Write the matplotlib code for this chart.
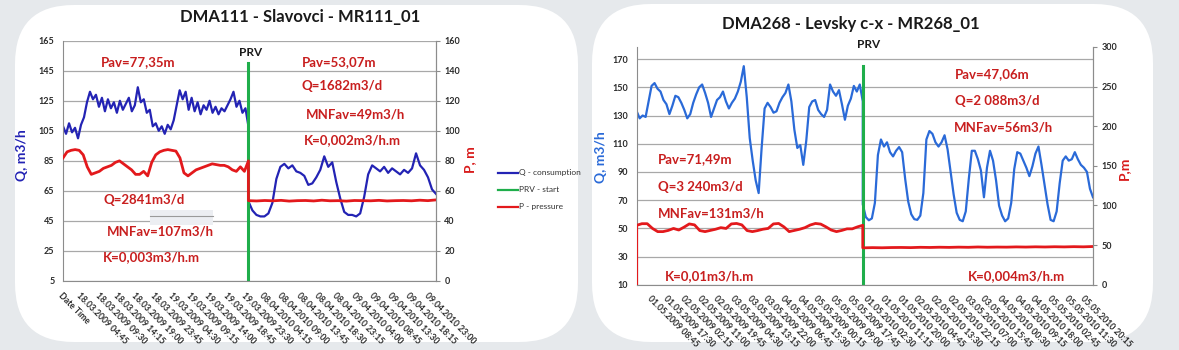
import numpy as np
import matplotlib
matplotlib.use("Agg")
import matplotlib.pyplot as plt
from matplotlib.patches import FancyBboxPatch, Rectangle
from matplotlib.lines import Line2D

plt.rcParams['font.family'] = ['Lato', 'DejaVu Sans']

W, H = 1179, 350

# ---------------- data: DMA111 (left) ----------------
labels_111 = ["Date Time",
              "18.03.2009 04:45", "18.03.2009 09:30", "18.03.2009 14:15", "18.03.2009 19:00",
              "18.03.2009 23:45", "19.03.2009 04:30", "19.03.2009 09:15", "19.03.2009 14:00",
              "19.03.2009 18:45", "19.03.2009 23:30", "08.04.2010 04:15", "08.04.2010 09:00",
              "08.04.2010 13:45", "08.04.2010 18:30", "08.04.2010 23:15", "09.04.2010 04:00",
              "09.04.2010 08:45", "09.04.2010 13:30", "09.04.2010 18:15", "09.04.2010 23:00"]
prv_111 = 10.14
q_before_111 = [108, 103, 110, 104, 107, 100, 109, 114, 124, 131, 126, 129, 121, 127, 118, 126,
                120, 124, 117, 125, 119, 123, 127, 118, 122, 134, 124, 126, 117, 119, 108, 110,
                105, 108, 103, 109, 106, 112, 122, 132, 126, 131, 119, 127, 118, 124, 116, 122,
                119, 125, 117, 121, 116, 120, 118, 122, 126, 131, 121, 125, 117, 120, 108]
q_after_111 = [58, 52, 49, 48, 48, 50, 57, 73, 81, 83, 80, 82, 78, 77, 75, 69, 70, 74, 79, 88,
               81, 84, 71, 60, 51, 49, 49, 48, 50, 61, 76, 82, 80, 78, 81, 77, 80, 78, 76, 79,
               77, 80, 90, 82, 79, 74, 66, 63]
p_before_111 = [82, 86, 87, 87.5, 87, 84, 76, 71, 72, 73, 75, 76, 77, 79, 80, 78, 76, 74, 71,
                71, 73, 70, 79, 84, 86, 87, 87.5, 87, 86.5, 82, 72, 70, 72, 74, 75, 76, 77, 78,
                77.5, 77, 77, 76, 74, 73, 76, 73, 80]
p_after_111 = [53.5, 53.3, 53.6, 53.4, 53.7, 53.2, 53.5, 53.6, 53.3, 53.8, 53.4, 53.5, 53.2,
               53.6, 53.5, 53.4, 53.7, 53.3, 53.5, 53.6, 53.4, 53.8, 53.5, 54.0]

# ---------------- data: DMA268 (right) ----------------
labels_268 = ["Date Time",
              "01.05.2009 08:45", "01.05.2009 17:30", "02.05.2009 02:15", "02.05.2009 11:00",
              "02.05.2009 19:45", "03.05.2009 04:30", "03.05.2009 13:15", "03.05.2009 22:00",
              "04.05.2009 06:45", "04.05.2009 15:30", "05.05.2009 00:15", "05.05.2009 09:00",
              "05.05.2009 17:45", "01.05.2010 02:30", "01.05.2010 11:15", "01.05.2010 20:00",
              "02.05.2010 04:45", "02.05.2010 13:30", "02.05.2010 22:15", "03.05.2010 07:00",
              "03.05.2010 15:45", "04.05.2010 00:30", "04.05.2010 09:15", "04.05.2010 18:00",
              "05.05.2010 02:45", "05.05.2010 11:30", "05.05.2010 20:15"]
prv_268 = 13.66
q_before_268 = [0, 133, 128, 130, 129, 140, 151, 153, 149, 147, 141, 138, 131, 137, 144, 143, 139,
                134, 128, 131, 139, 145, 150, 152, 146, 139, 129, 135, 141, 143, 147, 140, 135,
                139, 142, 147, 154, 165, 143, 114, 98, 84, 75, 107, 135, 139, 136, 132, 133, 139,
                143, 146, 152, 140, 120, 107, 109, 95, 112, 136, 140, 141, 134, 131, 129, 134,
                152, 147, 144, 148, 138, 127, 137, 142, 151, 147, 152, 140]
q_after_268 = [67, 58, 55.7, 57, 68, 102, 113, 108, 111, 104, 101, 105, 107.6, 104, 85, 69, 60,
               56.5, 56, 59, 75, 113, 119, 117, 111, 108, 111, 116, 106, 90, 74, 61, 56, 55, 62,
               85, 105, 105, 99, 91, 72, 93, 105, 98, 84, 66, 59, 55, 57, 68, 92, 104, 103, 98,
               93, 87, 94, 103, 108, 95, 81, 67, 56, 55, 62, 82, 98, 101, 98, 99, 104, 99, 95,
               93, 90, 78, 72]
p_before_268 = [0, 75, 77, 77, 71, 67, 67, 68.5, 71, 69, 72.6, 76.7, 75.5, 68.3, 67, 68.5, 70,
                72, 71, 76.7, 77.3, 75.5, 68.3, 67, 68.3, 70, 71, 76.7, 77.3, 73, 67, 68.5, 70,
                72, 75.3, 77.3, 76.5, 73, 69, 67, 68.5, 70.5, 70.5, 73, 75]
p_after_268 = [46.5, 46.8, 46.6, 46.9, 47.0, 46.8, 47.2, 47.0, 47.3, 47.1, 47.4, 47.2, 47.6,
               47.3, 47.5, 47.4, 47.7, 47.5, 47.8, 47.6, 47.9, 47.7, 48.0, 47.8, 48.2]

RED_TXT = '#c81e1e'


def box(x0, y0, x1, y1):
    return [x0 / W, 1 - y1 / H, (x1 - x0) / W, (y1 - y0) / H]


def fx(px):
    return px / W


def fy(py):
    return 1 - py / H


fig = plt.figure(figsize=(W / 100, H / 100), dpi=100)
fig.patch.set_facecolor('#e6e9ec')

cards = []
for (x0, y0, x1, y1) in [(15, 5, 578, 342), (592, 4, 1153, 342)]:
    card = FancyBboxPatch((fx(x0), fy(y1)), fx(x1) - fx(x0), fy(y0) - fy(y1),
                          boxstyle="round,pad=0,rounding_size=0.05",
                          transform=fig.transFigure, facecolor='white',
                          edgecolor='none', mutation_aspect=W / H, zorder=-10)
    fig.patches.append(card)
    cards.append(card)


def draw_chart(rect, labels, xmax, xmin, qlim, qticks, plim, pticks, prv, prv_top,
               q_before, q_after, p_before, p_after, qcolor, start_zero):
    ax = fig.add_axes(box(*rect))
    ax.set_facecolor('none')
    ax.set_xlim(xmin, xmax)
    ax.set_ylim(*qlim)
    ax.set_yticks(qticks)
    ax.grid(axis='y', color='#a8a8a8', lw=0.9)
    ax.set_axisbelow(True)
    ax.spines['top'].set_visible(False)
    for s in ['left', 'bottom', 'right']:
        ax.spines[s].set_color('#8c8c8c')
    ax.tick_params(axis='y', length=0, pad=6, labelsize=6.5, labelcolor='#2b2b2b')
    ax.set_xticks(range(len(labels)))
    ax.set_xticklabels(labels, rotation=-45, ha='left', va='top', rotation_mode='anchor',
                       fontsize=6.2, fontweight='bold', color='#2b2b2b')
    ax.tick_params(axis='x', length=0, pad=7)
    for t in ax.get_yticklabels():
        t.set_fontweight('bold')

    # Q series
    if start_zero:
        xb = np.concatenate([[xmin], np.linspace(xmin, prv, len(q_before) - 1)])
    else:
        xb = np.linspace(0, prv, len(q_before))
    xa = np.linspace(prv, xmax, len(q_after))
    ax.plot(np.concatenate([xb, xa]), np.concatenate([q_before, q_after]),
            color=qcolor, lw=1.6, solid_joinstyle='round')
    ax.plot([prv, prv], [qlim[0], prv_top], color='#1fae4b', lw=2.2)

    ax2 = ax.twinx()
    ax2.set_ylim(*plim)
    ax2.set_yticks(pticks)
    ax2.set_xlim(xmin, xmax)
    for s in ['top', 'left', 'bottom']:
        ax2.spines[s].set_visible(False)
    ax2.spines['right'].set_color('#8c8c8c')
    ax2.tick_params(axis='y', length=3, width=0.8, color='#8c8c8c', pad=3,
                    labelsize=6.5, labelcolor='#2b2b2b')
    for t in ax2.get_yticklabels():
        t.set_fontweight('bold')
    if start_zero:
        pb = np.concatenate([[xmin], np.linspace(xmin, prv, len(p_before) - 1)])
    else:
        pb = np.linspace(0, prv, len(p_before))
    pa = np.linspace(prv, xmax, len(p_after))
    ax2.plot(np.concatenate([pb, pa]), np.concatenate([p_before, p_after]),
             color='#e3191c', lw=2.0, solid_joinstyle='round')
    return ax, ax2


# ---------------- left chart ----------------
draw_chart((62.7, 40.7, 436, 281), labels_111, 20.4, -0.02, (5, 165), range(5, 166, 20),
           (0, 160), range(0, 161, 20), prv_111, 150,
           q_before_111, q_after_111, p_before_111, p_after_111, '#2323b4', False)

fig.text(fx(300), fy(17), "DMA111 - Slavovci - MR111_01", ha='center', va='center',
         fontsize=12, fontweight='bold', color='#1a1a1a')
fig.text(fx(251), fy(53), "PRV", ha='center', va='center', fontsize=8.5,
         fontweight='bold', color='#1a1a1a')
fig.text(fx(22), fy(155), "Q, m3/h", rotation=90, ha='center', va='center',
         fontsize=10, fontweight='bold', color='#2323b4')
fig.text(fx(470), fy(160), "P, m", rotation=90, ha='center', va='center',
         fontsize=10, fontweight='bold', color='#d81c1c')

for txt, x, y in [("Pav=77,35m", 101, 62), ("Pav=53,07m", 302, 62),
                  ("Q=1682m3/d", 302, 86), ("MNFav=49m3/h", 306, 115),
                  ("K=0,002m3/h.m", 304, 140), ("Q=2841m3/d", 103, 200),
                  ("MNFav=107m3/h", 107, 231), ("K=0,003m3/h.m", 103, 257)]:
    fig.text(fx(x), fy(y), txt, ha='left', va='center', fontsize=9.5,
             fontweight='bold', color=RED_TXT)

# grey smudge under Q=2841m3/d
fig.patches.append(Rectangle((fx(150), fy(225)), fx(213) - fx(150), fy(210) - fy(225),
                             transform=fig.transFigure, facecolor='#eceef2', edgecolor='none',
                             zorder=5))
fig.add_artist(Line2D([fx(150), fx(213)], [fy(215.5), fy(215.5)], transform=fig.transFigure,
                      color='#9a9a9a', lw=0.8, zorder=6))

# legend
for (name, col, y) in [("Q - consumption", '#2323b4', 173), ("PRV - start", '#1fae4b', 190),
                       ("P - pressure", '#e3191c', 207)]:
    fig.add_artist(Line2D([fx(498), fx(518)], [fy(y), fy(y)], transform=fig.transFigure,
                          color=col, lw=1.6))
    t = fig.text(fx(519), fy(y), name, ha='left', va='center', fontsize=6, color='#333333')
    t.set_clip_path(cards[0])

# ---------------- right chart ----------------
draw_chart((636.7, 47, 1093, 284.7), labels_268, 27.47, 0.1, (10, 178.6), range(10, 171, 20),
           (0, 300), range(0, 301, 50), prv_268, 165,
           q_before_268, q_after_268, p_before_268, p_after_268, '#2a6ad8', True)

fig.text(fx(851), fy(24), "DMA268 - Levsky c-x - MR268_01", ha='center', va='center',
         fontsize=12, fontweight='bold', color='#1a1a1a')
fig.text(fx(869), fy(45), "PRV", ha='center', va='center', fontsize=8.5,
         fontweight='bold', color='#1a1a1a')
fig.text(fx(601), fy(157), "Q, m3/h", rotation=90, ha='center', va='center',
         fontsize=10, fontweight='bold', color='#2a6ad8')
fig.text(fx(1124), fy(168), "P,m", rotation=90, ha='center', va='center',
         fontsize=10, fontweight='bold', color='#d81c1c')

for txt, x, y in [("Pav=47,06m", 955, 74), ("Q=2 088m3/d", 955, 101),
                  ("MNFav=56m3/h", 954, 128), ("Pav=71,49m", 658, 159),
                  ("Q=3 240m3/d", 658, 187), ("MNFav=131m3/h", 658, 214),
                  ("K=0,01m3/h.m", 665, 276), ("K=0,004m3/h.m", 968, 276)]:
    fig.text(fx(x), fy(y), txt, ha='left', va='center', fontsize=9.5,
             fontweight='bold', color=RED_TXT)

fig.savefig('out.png', dpi=100, facecolor=fig.get_facecolor())
